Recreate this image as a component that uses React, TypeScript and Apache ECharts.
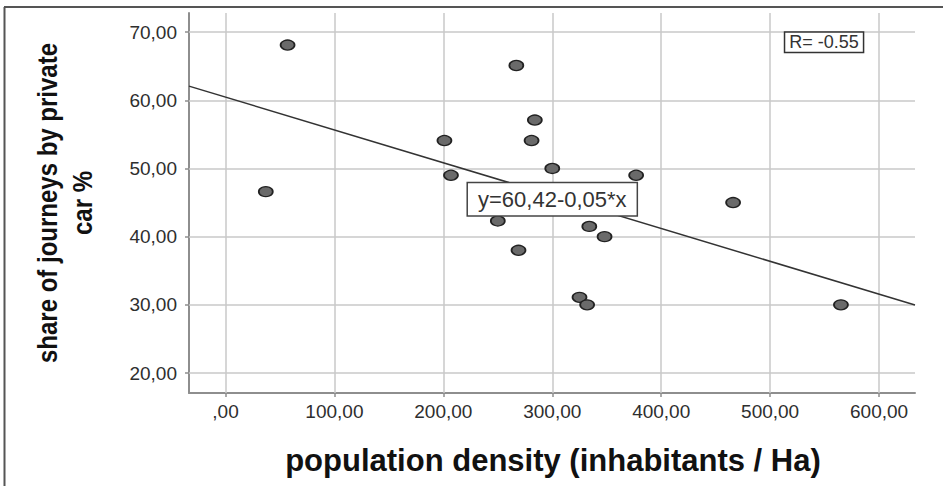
import React, { useEffect, useRef } from "react";
import * as echarts from "echarts";

// Data
const density = [57, 267, 284, 281, 201, 300, 207, 377, 37, 466, 250, 334, 348, 269, 325, 332, 565];
const share = [68.1, 65.1, 57.1, 54.1, 54.1, 50.0, 49.0, 49.0, 46.6, 45.0, 42.3, 41.5, 40.0, 38.0, 31.1, 30.0, 30.0];

// Fit line endpoints (read at the plot's left and right edges)
const fitX = [-33.5, 633];
const fitY = [62.08, 29.97];

const xTicks = [0, 100, 200, 300, 400, 500, 600];
const yTicks = [20, 30, 40, 50, 60, 70];
const xRange = [-33.5, 633];
const yRange = [17.07, 72.8];

const eqText = "y=60,42-0,05*x";
const eqAt = [300, 45.5];
const rText = "R= -0.55";
const rAt = [549.5, 68.5];

const xTitle = "population density (inhabitants / Ha)";
const yTitle = "share of journeys by private\ncar %";

const FONT = '"Liberation Sans", Arial, sans-serif';
const fmt = (v: number) => (v === 0 ? ",00" : v.toFixed(2).replace(".", ","));

export default function App() {
  const ref = useRef<HTMLDivElement>(null);
  useEffect(() => {
    if (!ref.current) return;
    const chart = echarts.init(ref.current, undefined, { renderer: "svg" });
    const gridLine = { color: "#c9c9c9", width: 1.5, type: "solid" as const };
    chart.setOption({
      animation: false,
      backgroundColor: "#ffffff",
      grid: { left: 189, right: 28, top: 13, bottom: 93, containLabel: false },
      xAxis: {
        type: "value",
        min: xRange[0],
        max: xRange[1],
        splitLine: { show: false },
        axisLine: { show: true, onZero: false, lineStyle: { color: "#8e8e8e", width: 2 } },
        axisTick: { show: true, customValues: xTicks, length: 4, lineStyle: { color: "#8e8e8e", width: 1.5 } },
        axisLabel: { customValues: xTicks, formatter: fmt, fontSize: 19, color: "#2e2e2e", margin: 9, fontFamily: FONT },
      },
      yAxis: {
        type: "value",
        min: yRange[0],
        max: yRange[1],
        splitLine: { show: false },
        axisLine: { show: true, onZero: false, lineStyle: { color: "#8e8e8e", width: 2 } },
        axisTick: { show: true, customValues: yTicks, length: 4, lineStyle: { color: "#8e8e8e", width: 1.5 } },
        axisLabel: { customValues: yTicks, formatter: fmt, fontSize: 19, color: "#2e2e2e", margin: 12, fontFamily: FONT },
      },
      series: [
        {
          type: "line",
          z: 2,
          data: fitX.map((x, i) => [x, fitY[i]]),
          showSymbol: false,
          symbol: "none",
          lineStyle: { color: "#333", width: 1.5 },
          silent: true,
          markLine: {
            z: 1,
            silent: true,
            symbol: "none",
            label: { show: false },
            lineStyle: gridLine,
            data: [
              ...xTicks.map((v) => ({ xAxis: v })),
              ...yTicks.map((v) => ({ yAxis: v })),
            ],
          },
          markPoint: {
            z: 6,
            silent: true,
            symbol: "circle",
            symbolSize: 1,
            itemStyle: { color: "rgba(0,0,0,0)" },
            data: [
              {
                coord: eqAt,
                label: {
                  show: true,
                  position: "inside",
                  formatter: eqText,
                  fontSize: 22,
                  lineHeight: 26,
                  fontFamily: FONT,
                  color: "#333",
                  backgroundColor: "#fff",
                  borderColor: "#444",
                  borderWidth: 1.5,
                  padding: [3, 10],
                },
              },
              {
                coord: rAt,
                label: {
                  show: true,
                  position: "inside",
                  formatter: rText,
                  fontSize: 18,
                  lineHeight: 19,
                  fontFamily: FONT,
                  color: "#333",
                  backgroundColor: "#fff",
                  borderColor: "#333",
                  borderWidth: 1.5,
                  padding: [0, 4],
                },
              },
            ],
          },
        },
        {
          type: "scatter",
          z: 3,
          data: density.map((x, i) => [x, share[i]]),
          symbol: "circle",
          symbolSize: [14, 10],
          itemStyle: { color: "#6a6a6a", borderColor: "#222", borderWidth: 1.5, opacity: 1 },
          silent: true,
        },
      ],
      graphic: [
        { type: "line", shape: { x1: 4, y1: 7, x2: 943, y2: 7 }, style: { stroke: "#555", lineWidth: 2 }, silent: true },
        { type: "line", shape: { x1: 4.5, y1: 7, x2: 4.5, y2: 486 }, style: { stroke: "#555", lineWidth: 2 }, silent: true },
        {
          type: "text",
          x: 553,
          y: 460,
          silent: true,
          style: { text: xTitle, fontSize: 31, fontWeight: "bold", fontFamily: FONT, fill: "#111", align: "center", verticalAlign: "middle" },
        },
        {
          type: "text",
          x: 65,
          y: 203,
          rotation: Math.PI / 2,
          scaleY: 1.15,
          silent: true,
          style: { text: yTitle, fontSize: 24, lineHeight: 30, fontWeight: "bold", fontFamily: FONT, fill: "#111", align: "center", verticalAlign: "middle" },
        },
      ],
    });
    return () => chart.dispose();
  }, []);
  return <div ref={ref} style={{ position: "fixed", left: 0, top: 0, width: 943, height: 486, background: "#fff" }} />;
}
